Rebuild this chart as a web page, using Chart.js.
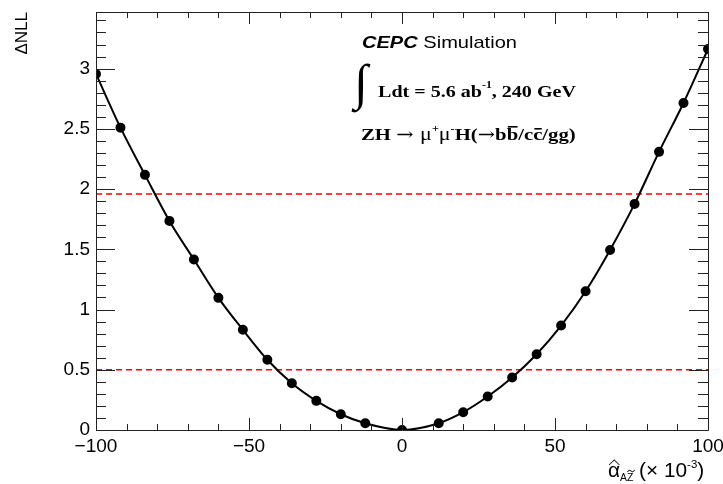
<!DOCTYPE html>
<html>
<head>
<meta charset="utf-8">
<script src="https://cdn.jsdelivr.net/npm/chart.js@4.4.1/dist/chart.umd.min.js"></script>
<style>
  html, body { margin: 0; padding: 0; background: #fff; }
  canvas { display: block; }
</style>
</head>
<body>
<canvas id="myChart" width="723" height="484"></canvas>
<script>
// scan points (x in units of 1e-3)
const alphaValues = [-100, -92, -84, -76, -68, -60, -52, -44, -36, -28, -20, -12, 0,
                     12, 20, 28, 36, 44, 52, 60, 68, 76, 84, 92, 100];
const nllValues = [2.956, 2.510, 2.118, 1.736, 1.415, 1.097, 0.832, 0.583, 0.388, 0.242, 0.131, 0.056, 0.0,
                   0.056, 0.148, 0.278, 0.436, 0.629, 0.867, 1.152, 1.495, 1.877, 2.309, 2.715, 3.163];
const refLevels = [0.5, 1.96];
const xTickLabels = [-100, -50, 0, 50, 100];
const yTickLabels = [0, 0.5, 1, 1.5, 2, 2.5, 3];

const ctx = document.getElementById('myChart').getContext('2d');

function drawRuns(c, runs, x, y) {
  let cx = x;
  for (const r of runs) {
    c.font = r.font;
    const w = c.measureText(r.t).width;
    c.fillText(r.t, cx, y + (r.dy || 0));
    if (r.bar) c.fillRect(cx + 1, y - r.bar, w - 1.5, 1.6);
    cx += w;
  }
  return cx;
}

// ROOT-like frame, inward ticks and the text labels
const rootStyle = {
  id: 'rootStyle',
  afterDraw(chart) {
    const c = chart.ctx;
    const a = chart.chartArea;
    const xs = chart.scales.x, ys = chart.scales.y;
    c.save();
    c.strokeStyle = '#222';
    c.lineWidth = 1;
    c.beginPath();
    c.rect(a.left + 0.5, a.top + 0.5, a.right - a.left, a.bottom - a.top);
    for (let v = -100; v <= 100; v += 10) {
      const px = Math.round(xs.getPixelForValue(v)) + 0.5;
      const len = v % 50 === 0 ? 12 : 6;
      c.moveTo(px, a.bottom); c.lineTo(px, a.bottom - len);
      c.moveTo(px, a.top); c.lineTo(px, a.top + len);
    }
    for (let i = 0; i <= 34; i++) {
      const py = Math.round(ys.getPixelForValue(i / 10)) + 0.5;
      const len = i % 5 === 0 ? 19 : 10;
      c.moveTo(a.left, py); c.lineTo(a.left + len, py);
      c.moveTo(a.right, py); c.lineTo(a.right - len, py);
    }
    c.stroke();

    c.fillStyle = '#000';
    c.textBaseline = 'alphabetic';
    c.textAlign = 'left';

    // y title
    c.save();
    c.translate(27, a.top);
    c.rotate(-Math.PI / 2);
    c.textAlign = 'right';
    c.font = '17px "Liberation Sans"';
    c.fillText('\u0394NLL', 0, 0);
    c.restore();

    // x title
    const tx = 608, ty = 477;
    c.save();
    c.translate(tx, ty);
    c.scale(1.04, 1);
    drawRuns(c, [
      { t: '\u03B1', font: '20px "Liberation Sans"' },
      { t: 'AZ', font: '10px "Liberation Sans"', dy: 4 },
      { t: ' (\u00D7 10', font: '20px "Liberation Sans"' },
      { t: '-3', font: '11px "Liberation Sans"', dy: -9 },
      { t: ')', font: '20px "Liberation Sans"' }
    ], 0, 0);
    // hat over alpha
    c.beginPath();
    c.moveTo(1, -12);
    c.lineTo(6, -17);
    c.lineTo(11, -12);
    c.stroke();
    // tilde over Z
    c.font = '10px "Liberation Sans"';
    const zx = 12 + c.measureText('A').width;
    c.beginPath();
    c.moveTo(zx, -5);
    c.quadraticCurveTo(zx + 2, -8, zx + 3.5, -6);
    c.quadraticCurveTo(zx + 5, -4, zx + 7, -7);
    c.stroke();
    c.restore();

    // CEPC label
    c.save();
    c.translate(362, 48);
    c.scale(1.18, 1);
    drawRuns(c, [
      { t: 'CEPC', font: 'italic bold 17px "Liberation Sans"' },
      { t: ' Simulation', font: '17px "Liberation Sans"' }
    ], 0, 0);
    c.restore();

    // integral
    c.font = '50px "Liberation Serif"';
    c.fillText('\u222B', 354, 99);

    c.save();
    c.translate(378, 97);
    c.scale(1.18, 1);
    drawRuns(c, [
      { t: 'Ldt = 5.6 ab', font: 'bold 17px "Liberation Serif"' },
      { t: '-1', font: 'bold 10px "Liberation Serif"', dy: -9 },
      { t: ', 240 GeV', font: 'bold 17px "Liberation Serif"' }
    ], 0, 0);
    c.restore();

    c.save();
    c.translate(361, 140);
    c.scale(1.22, 1);
    drawRuns(c, [
      { t: 'ZH ', font: 'bold 17px "Liberation Serif"' },
      { t: '\u2192 ', font: '17px "DejaVu Serif"' },
      { t: '\u03BC', font: '18px "Liberation Serif"' },
      { t: '+', font: 'bold 10px "Liberation Serif"', dy: -8 },
      { t: '\u03BC', font: '18px "Liberation Serif"' },
      { t: '-', font: 'bold 10px "Liberation Serif"', dy: -8 },
      { t: 'H(', font: 'bold 17px "Liberation Serif"' },
      { t: '\u2192', font: '17px "DejaVu Serif"' },
      { t: 'b', font: 'bold 17px "Liberation Serif"' },
      { t: 'b', font: 'bold 17px "Liberation Serif"', bar: 14 },
      { t: '/c', font: 'bold 17px "Liberation Serif"' },
      { t: 'c', font: 'bold 17px "Liberation Serif"', bar: 12 },
      { t: '/gg)', font: 'bold 17px "Liberation Serif"' }
    ], 0, 0);
    c.restore();
    c.restore();
  }
};

const curve = alphaValues.map((x, i) => ({ x: x, y: nllValues[i] }));
const refSets = refLevels.map(lvl => ({
  data: [{ x: -100, y: lvl }, { x: 100, y: lvl }],
  borderColor: '#ff0000',
  borderWidth: 1.5,
  borderDash: [6, 4],
  pointRadius: 0,
  order: 2
}));

new Chart(ctx, {
  type: 'line',
  data: {
    datasets: [{
      label: 'NLL scan',
      data: curve,
      borderColor: '#000',
      borderWidth: 2,
      backgroundColor: '#000',
      pointBackgroundColor: '#000',
      pointBorderColor: '#000',
      pointRadius: 4,
      cubicInterpolationMode: 'monotone',
      order: 1
    }, ...refSets]
  },
  options: {
    responsive: false,
    animation: false,
    devicePixelRatio: 1,
    layout: { padding: { top: 12, right: 15, left: 0, bottom: 0 } },
    plugins: {
      legend: { display: false },
      tooltip: { enabled: false }
    },
    scales: {
      x: {
        type: 'linear',
        min: -100,
        max: 100,
        grid: { display: false, drawTicks: false },
        border: { display: false },
        ticks: {
          color: '#000',
          font: { family: 'Liberation Sans', size: 19 },
          padding: 5,
          maxRotation: 0,
          callback: v => (v < 0 ? '\u2212' + Math.abs(v) : String(v))
        },
        afterBuildTicks: s => { s.ticks = xTickLabels.map(v => ({ value: v })); },
        afterFit: s => { s.height = 54; s.paddingLeft = 0; s.paddingRight = 0; }
      },
      y: {
        min: 0,
        max: 3.47,
        grid: { display: false, drawTicks: false },
        border: { display: false },
        ticks: {
          color: '#000',
          font: { family: 'Liberation Sans', size: 19 },
          padding: 6,
          callback: v => String(v)
        },
        afterBuildTicks: s => { s.ticks = yTickLabels.map(v => ({ value: v })); },
        afterFit: s => { s.width = 96; s.paddingTop = 0; s.paddingBottom = 0; }
      }
    }
  },
  plugins: [rootStyle]
});
</script>
</body>
</html>
